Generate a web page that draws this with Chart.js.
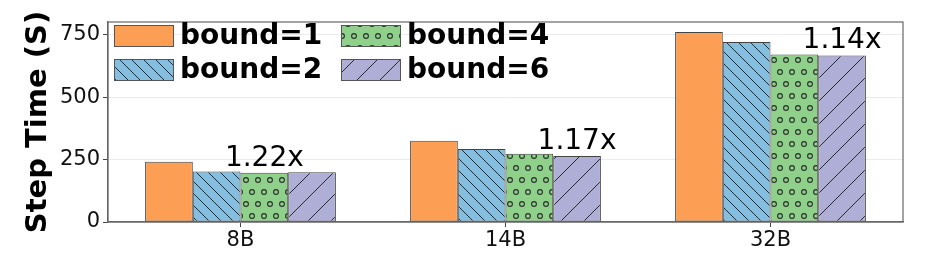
<!DOCTYPE html>
<html>
<head>
<meta charset="utf-8">
<script src="https://cdn.jsdelivr.net/npm/chart.js@4"></script>
<style>
html,body{margin:0;padding:0;background:#fff;}
#c{display:block;}
</style>
</head>
<body>
<canvas id="c" width="941" height="257"></canvas>
<script>
// ---- data ----
const categories = ['8B', '14B', '32B'];
const seriesLabels = ['bound=1', 'bound=2', 'bound=4', 'bound=6'];
const bound1 = [242, 326, 762];
const bound2 = [203, 293, 722];
const bound4 = [197, 274, 672];
const bound6 = [199, 265, 668];
const yTicks = [0, 250, 500, 750];
const yMax = 802;
const speedupLabels = ['1.22x', '1.17x', '1.14x'];
const speedupAnchorSeries = [2, 3, 3];

// ---- styles ----
const FONT = 'DejaVu Sans';
const colors = ['#fc9f55', '#86bedf', '#8fd18b', '#aeaed6'];
const hatchColor = '#2a2a2a';

function makePattern(bg, kind) {
  const c = document.createElement('canvas');
  const ctx = c.getContext('2d');
  if (kind === 'none') { return bg; }
  if (kind === 'back') {
    const s = 12; c.width = s; c.height = s;
    ctx.fillStyle = bg; ctx.fillRect(0, 0, s, s);
    ctx.strokeStyle = hatchColor; ctx.lineWidth = 1;
    ctx.beginPath();
    for (const k of [-s, 0, s]) { ctx.moveTo(k, 0); ctx.lineTo(k + s, s); }
    ctx.stroke();
  } else if (kind === 'fwd') {
    const s = 23; c.width = s; c.height = s;
    ctx.fillStyle = bg; ctx.fillRect(0, 0, s, s);
    ctx.strokeStyle = hatchColor; ctx.lineWidth = 1;
    ctx.beginPath();
    for (const k of [-s, 0, s]) { ctx.moveTo(k, s); ctx.lineTo(k + s, 0); }
    ctx.stroke();
  } else if (kind === 'circ') {
    const w = 12, h = 24; c.width = w; c.height = h;
    ctx.fillStyle = bg; ctx.fillRect(0, 0, w, h);
    ctx.strokeStyle = hatchColor; ctx.lineWidth = 1.1;
    const pts = [[0,0],[w,0],[0,h],[w,h],[w/2,h/2]];
    for (const [x, y] of pts) { ctx.beginPath(); ctx.arc(x, y, 2.4, 0, Math.PI * 2); ctx.stroke(); }
  }
  return ctx.createPattern(c, 'repeat');
}
const kinds = ['none', 'back', 'circ', 'fwd'];
const fills = colors.map((c, i) => makePattern(c, kinds[i]));
const seriesValues = [bound1, bound2, bound4, bound6];

const frameAndLegend = {
  id: 'frameAndLegend',
  afterDatasetsDraw(chart) {
    const { ctx, chartArea: a } = chart;
    ctx.save();
    ctx.strokeStyle = '#666'; ctx.lineWidth = 1.2;
    ctx.strokeRect(a.left, a.top, a.right - a.left, a.bottom - a.top);
    // speedup annotations
    ctx.fillStyle = '#000';
    ctx.font = '28px "' + FONT + '"';
    ctx.textAlign = 'center'; ctx.textBaseline = 'alphabetic';
    speedupLabels.forEach((t, i) => {
      const el = chart.getDatasetMeta(speedupAnchorSeries[i]).data[i];
      ctx.fillText(t, el.x, el.y - 7);
    });
    // legend (2 columns, inside axes)
    const pw = 59, ph = 21, rowH = 34, colW = 227;
    ctx.font = 'bold 28px "' + FONT + '"';
    ctx.textAlign = 'left'; ctx.textBaseline = 'middle';
    chart.data.datasets.forEach((ds, i) => {
      const col = Math.floor(i / 2), row = i % 2;
      const x = a.left + 6 + col * colW, y = a.top + 3 + row * rowH;
      ctx.fillStyle = ds.backgroundColor;
      ctx.fillRect(x, y, pw, ph);
      ctx.strokeStyle = '#555'; ctx.lineWidth = 1;
      ctx.strokeRect(x + 0.5, y + 0.5, pw, ph);
      ctx.fillStyle = '#000';
      ctx.fillText(ds.label, x + pw + 7, y + ph / 2 + 1);
    });
    ctx.restore();
  }
};

new Chart(document.getElementById('c'), {
  type: 'bar',
  data: {
    labels: categories,
    datasets: seriesLabels.map((l, i) => ({
      label: l,
      data: seriesValues[i],
      backgroundColor: fills[i],
      borderColor: '#444',
      borderWidth: 1,
      borderSkipped: false,
      categoryPercentage: 0.72,
      barPercentage: 1.0
    }))
  },
  options: {
    responsive: false,
    animation: false,
    devicePixelRatio: 1,
    layout: { padding: { top: 22, right: 38, left: 0, bottom: 0 } },
    plugins: { legend: { display: false }, tooltip: { enabled: false } },
    scales: {
      x: {
        afterFit(s) { s.height = 35; },
        grid: { offset: false, drawOnChartArea: false, tickLength: 5, tickColor: '#444', tickWidth: 1 },
        border: { color: '#666', width: 1.2 },
        ticks: { font: { family: FONT, size: 21 }, color: '#111', padding: 1 }
      },
      y: {
        min: 0, max: yMax,
        afterFit(s) { s.width = 108; },
        afterBuildTicks(s) { s.ticks = yTicks.map(v => ({ value: v })); },
        grid: { color: '#ebebeb', lineWidth: 1, tickLength: 5, tickColor: '#444' },
        border: { color: '#666', width: 1.2 },
        ticks: { font: { family: FONT, size: 21 }, color: '#111', padding: 3 },
        title: { display: true, text: 'Step Time (S)', font: { family: FONT, size: 29, weight: 'bold' }, color: '#000', padding: { top: 21, bottom: 0 } }
      }
    }
  },
  plugins: [frameAndLegend]
});
</script>
</body>
</html>
